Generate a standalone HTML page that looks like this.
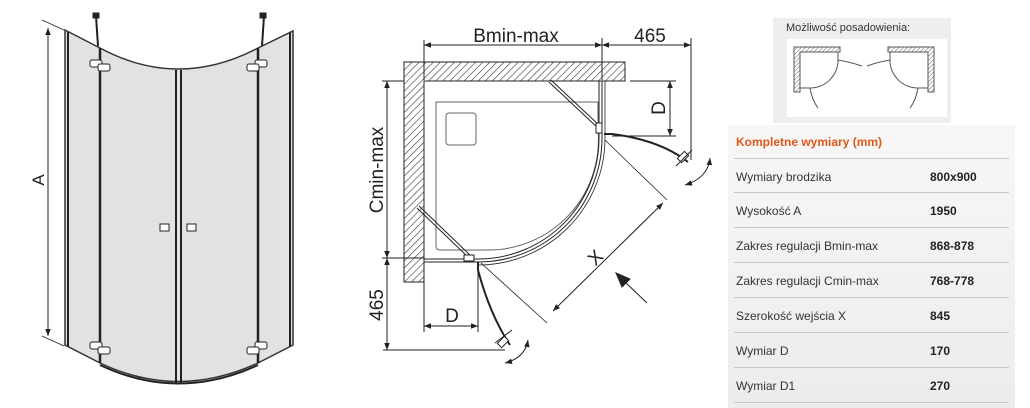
<!DOCTYPE html>
<html><head><meta charset="utf-8"><style>
html,body{margin:0;padding:0;background:#fff;}
body{width:1030px;height:408px;position:relative;overflow:hidden;font-family:"Liberation Sans",sans-serif;}
.t{position:absolute;left:728px;top:125px;width:287px;height:283px;background:linear-gradient(#f7f7f7,#ececec);}
.row{position:absolute;left:6px;width:275px;border-top:1px solid #c8c8c8;height:34px;font-size:12px;color:#333;}
.row span{position:absolute;top:11px;left:2px;}
.row b{position:absolute;left:196px;top:11px;color:#222;}
</style></head><body>
<svg width="1030" height="408" style="position:absolute;left:0;top:0">
<defs>
<pattern id="h" width="5" height="5" patternUnits="userSpaceOnUse" patternTransform="rotate(45)">
<rect width="5" height="5" fill="#fff"/><line x1="0" y1="0" x2="0" y2="5" stroke="#444" stroke-width="1.3"/></pattern>
<pattern id="h2" width="3" height="3" patternUnits="userSpaceOnUse" patternTransform="rotate(45)">
<rect width="3" height="3" fill="#fff"/><line x1="0" y1="0" x2="0" y2="3" stroke="#666" stroke-width="1"/></pattern>
<marker id="a" viewBox="0 0 10 10" refX="10" refY="5" markerWidth="9" markerHeight="7" orient="auto-start-reverse"><path d="M0,1 L10,5 L0,9 z" fill="#222"/></marker>
</defs>
<!-- LEFT 3D -->
<g stroke="#222" fill="none">
<path d="M65,30 L100,48 Q178,90 258,48 L293,31 L293,345 L258,363 Q178,400 100,363 L65,345 Z" fill="#e2e2e2" stroke="#333" stroke-width="1.5"/>
<line x1="68" y1="32" x2="68" y2="346" stroke-width="2"/>
<line x1="290" y1="33" x2="290" y2="346" stroke-width="2"/>
<line x1="100" y1="48" x2="100" y2="363" stroke-width="2.5"/>
<line x1="258" y1="48" x2="258" y2="363" stroke-width="2.5"/>
<line x1="176" y1="70" x2="176" y2="383" stroke-width="2"/>
<line x1="181" y1="70" x2="181" y2="383" stroke-width="2"/>
<path d="M100,365 Q178,402 258,365" stroke-width="2"/>
<line x1="96" y1="16" x2="98" y2="46" stroke-width="2"/>
<line x1="264" y1="16" x2="262" y2="46" stroke-width="2"/>
<rect x="93" y="13" width="6" height="5" fill="#222"/><rect x="260" y="13" width="6" height="5" fill="#222"/>
<rect x="90" y="60" width="12" height="7" fill="#fff" rx="2"/><rect x="98" y="64" width="12" height="7" fill="#fff" rx="2"/>
<rect x="255" y="60" width="12" height="7" fill="#fff" rx="2"/><rect x="247" y="64" width="12" height="7" fill="#fff" rx="2"/>
<rect x="90" y="342" width="12" height="7" fill="#fff" rx="2"/><rect x="98" y="347" width="12" height="7" fill="#fff" rx="2"/>
<rect x="255" y="342" width="12" height="7" fill="#fff" rx="2"/><rect x="247" y="347" width="12" height="7" fill="#fff" rx="2"/>
<rect x="160" y="224" width="9" height="7" fill="#fff"/><rect x="187" y="224" width="9" height="7" fill="#fff"/>
<line x1="48" y1="28" x2="48" y2="336" stroke-width="1" marker-start="url(#a)" marker-end="url(#a)"/>
<line x1="42" y1="20" x2="64" y2="30" stroke-width="0.8"/><line x1="42" y1="336" x2="64" y2="346" stroke-width="0.8"/>
</g>
<text x="44" y="180" font-size="17" fill="#222" transform="rotate(-90 44 180)" text-anchor="middle">A</text>
<!-- MIDDLE PLAN -->
<g stroke="#222" fill="none" stroke-width="1">
<path d="M404,62 H625 V81 H424 V282 H404 Z" fill="url(#h)"/>
<path d="M436,102 H598 V130 A110,110 0 0 1 488,250 H440 Q436,250 436,246 Z" stroke="#666"/>
<rect x="446" y="113" width="30" height="32" rx="3" stroke="#666"/>
<path d="M599,81 V138 A121,121 0 0 1 478,259 H424"/>
<path d="M602,81 V138 A124,124 0 0 1 478,262 H424"/>
<path d="M605,81 V138 A127,127 0 0 1 478,265" stroke-width="0.8"/>
<line x1="549" y1="82" x2="599" y2="129" stroke-width="1"/>
<line x1="551" y1="80" x2="601" y2="127" stroke-width="1"/>
<line x1="417" y1="208" x2="469" y2="258" stroke-width="1"/>
<line x1="419" y1="206" x2="471" y2="256" stroke-width="1"/>
<rect x="596" y="123" width="6" height="10" fill="#fff"/>
<rect x="464" y="255" width="10" height="6" fill="#fff"/>
<path d="M604,134 H612 Q660,140 688,162" stroke-width="2"/>
<path d="M478,262 V270 Q490,315 510,345" stroke-width="2"/>
<rect x="680" y="152" width="6" height="10" transform="rotate(45 683 157)" fill="#fff"/>
<line x1="676" y1="166" x2="692" y2="150"/>
<rect x="500" y="337" width="6" height="10" transform="rotate(45 503 342)" fill="#fff"/>
<line x1="495" y1="343" x2="512" y2="330"/>
<path d="M710,158 Q708,178 685,185" marker-start="url(#a)" marker-end="url(#a)"/>
<path d="M528,340 Q525,358 505,363" marker-start="url(#a)" marker-end="url(#a)"/>
<line x1="424" y1="40" x2="424" y2="80"/><line x1="602" y1="38" x2="602" y2="80"/>
<line x1="424" y1="45" x2="602" y2="45" marker-start="url(#a)" marker-end="url(#a)"/>
<line x1="602" y1="45" x2="691" y2="45" marker-start="url(#a)" marker-end="url(#a)"/>
<line x1="691" y1="38" x2="691" y2="160"/>
<line x1="630" y1="81" x2="676" y2="81"/><line x1="612" y1="136" x2="676" y2="136"/>
<line x1="670" y1="81" x2="670" y2="136" marker-start="url(#a)" marker-end="url(#a)"/>
<line x1="382" y1="81" x2="404" y2="81"/><line x1="382" y1="258" x2="424" y2="258"/>
<line x1="387" y1="81" x2="387" y2="258" marker-start="url(#a)" marker-end="url(#a)"/>
<line x1="387" y1="258" x2="387" y2="350" marker-start="url(#a)" marker-end="url(#a)"/>
<line x1="383" y1="350" x2="505" y2="350"/>
<line x1="424" y1="282" x2="424" y2="332"/><line x1="478" y1="268" x2="478" y2="332"/>
<line x1="424" y1="326" x2="478" y2="326" marker-start="url(#a)" marker-end="url(#a)"/>
<line x1="605" y1="140" x2="667" y2="200" stroke-width="0.8"/>
<line x1="481" y1="263" x2="547" y2="323" stroke-width="0.8"/>
<line x1="553" y1="311" x2="663" y2="203" marker-start="url(#a)" marker-end="url(#a)"/>
<line x1="647" y1="303" x2="625" y2="282"/>
<path d="M616,273 L630,279 L622,287 Z" fill="#222"/>
</g>
<g font-size="19" fill="#222" text-anchor="middle">
<text x="516" y="42">Bmin-max</text>
<text x="650" y="42">465</text>
<text x="665" y="108" transform="rotate(-90 665 108)">D</text>
<text x="383" y="170" transform="rotate(-90 383 170)">Cmin-max</text>
<text x="383" y="305" transform="rotate(-90 383 305)">465</text>
<text x="452" y="322">D</text>
<text x="600" y="262" transform="rotate(-45 600 262)">X</text>
</g>
<rect x="773" y="18" width="178" height="105" fill="#eeeeee"/>
<rect x="787" y="39" width="160" height="78" fill="#fff"/>
<text x="786" y="31" font-size="11" fill="#333">Możliwość posadowienia:</text>
<g stroke="#555" fill="none" stroke-width="1">
<path d="M794,47 H840 V52 H800 V92 H794 Z" fill="url(#h2)"/>
<path d="M838,52 V60 A28,28 0 0 1 810,88 H800"/>
<path d="M838,60 Q850,62 862,66"/><path d="M810,88 Q812,100 818,108"/>
<path d="M934,47 H888 V52 H928 V92 H934 Z" fill="url(#h2)"/>
<path d="M890,52 V60 A28,28 0 0 0 918,88 H928"/>
<path d="M890,60 Q878,62 867,66"/><path d="M918,88 Q916,100 910,108"/>
</g>
</svg>
<div class="t">
<div style="position:absolute;left:8px;top:10px;font-size:12px;font-weight:bold;color:#e0571c">Kompletne wymiary (mm)</div>
<div class="row" style="top:33px"><span>Wymiary brodzika</span><b>800x900</b></div>
<div class="row" style="top:67px"><span>Wysokość A</span><b>1950</b></div>
<div class="row" style="top:102px"><span>Zakres regulacji Bmin-max</span><b>868-878</b></div>
<div class="row" style="top:137px"><span>Zakres regulacji Cmin-max</span><b>768-778</b></div>
<div class="row" style="top:172px"><span>Szerokość wejścia X</span><b>845</b></div>
<div class="row" style="top:207px"><span>Wymiar D</span><b>170</b></div>
<div class="row" style="top:242px"><span>Wymiar D1</span><b>270</b></div>
<div class="row" style="top:277px;height:1px"></div>
</div>
</body></html>
